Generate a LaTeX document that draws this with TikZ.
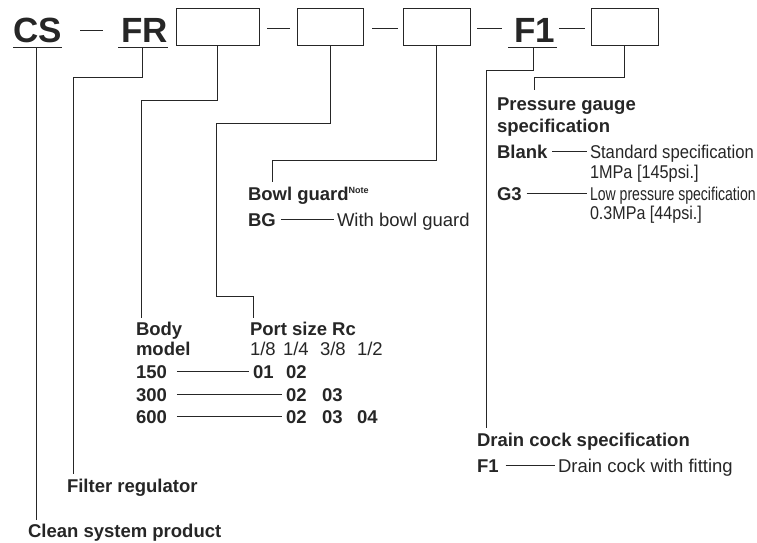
\documentclass[tikz,border=0pt]{standalone}
\usepackage{fontspec}
\setmainfont{Liberation Sans}
\usetikzlibrary{calc}
\definecolor{ink}{HTML}{262626}
\begin{document}
\begin{tikzpicture}[x=1pt,y=-1pt,
  every node/.style={inner sep=0pt, outer sep=0pt, text=ink},
  big/.style={font=\fontsize{35}{40}\selectfont\bfseries, anchor=base west},
  lbl/.style={font=\fontsize{18.5}{21}\selectfont\bfseries, anchor=base west, align=left},
  txt/.style={font=\fontsize{18.5}{21}\selectfont, anchor=base west},
  codebox/.style={draw=ink, line width=1pt, minimum height=37pt},
  conn/.style={draw=ink, line width=1pt},
  sepdash/.style={draw=ink, line width=1pt},
  lead/.style={draw=ink, line width=1pt, shorten <=5pt, shorten >=3pt}
]
\useasboundingbox (0,0) rectangle (757,543);
\fill[white] (0,0) rectangle (757,543);

% ---- code line ----
\node[big] (cs) at (13.5,43) {CS};
\node[big] (fr) at (121,43) {FR};
\node[codebox, minimum width=83pt] (b1) at (217.5,27.5) {};
\node[codebox, minimum width=66pt] (b2) at (330,27.5) {};
\node[codebox, minimum width=67pt] (b3) at (436.5,27.5) {};
\node[big] (f1) at (514,43) {F1};
\node[codebox, minimum width=67pt] (b4) at (624.5,27.5) {};

% underlines
\coordinate (csu) at ($(cs.base)+(-1.5,5)$);
\coordinate (fru) at ($(fr.base)+(-1.5,5)$);
\coordinate (f1u) at ($(f1.base)+(-1,5)$);
\draw[conn] ($(cs.base west)+(-0.5,5)$) -- ($(cs.base east)+(0,5)$);
\draw[conn] ($(fr.base west)+(-3,5)$) -- ($(fr.base east)+(0.5,5)$);
\draw[conn] ($(f1.base west)+(-6,5)$) -- ($(f1.base east)+(2,5)$);

% separator dashes
\draw[sepdash, shorten <=18pt, shorten >=18pt] (cs.east) -- (cs.east -| fr.west);
\draw[sepdash, shorten <=8pt, shorten >=7pt] ($(b1.east)+(0,1.5)$) -- ($(b2.west)+(0,1.5)$);
\draw[sepdash, shorten <=9pt, shorten >=5pt] ($(b2.east)+(0,1.5)$) -- ($(b3.west)+(0,1.5)$);
\draw[sepdash, shorten <=7pt, shorten >=12pt] ($(b3.east)+(0,1.5)$) -- ($(b3.east -| f1.west)+(0,1.5)$);
\draw[sepdash, shorten <=4pt, shorten >=6pt] ($(b4.west -| f1.east)+(0,1.5)$) -- ($(b4.west)+(0,1.5)$);

% ---- labels ----
\node[lbl, font=\fontsize{18.5}{22}\selectfont\bfseries] (press) at (497,132) {Pressure gauge\\specification};
\node[lbl] (blank) at (497,158) {Blank};
\node[txt] (std1) at (590,158) {\scalebox{0.9}[1]{Standard specification}};
\node[txt] (std2) at (590,178) {\scalebox{0.88}[1]{1MPa [145psi.]}};
\node[lbl] (g3) at (497,200) {G3};
\node[txt] (low1) at (590,200) {\scalebox{0.76}[1]{Low pressure specification}};
\node[txt] (low2) at (590,219) {\scalebox{0.87}[1]{0.3MPa [44psi.]}};

\node[lbl] (bowl) at (248,200) {Bowl guard\raisebox{7pt}{\fontsize{9}{9}\selectfont Note}};
\node[lbl] (bg) at (248,226) {BG};
\node[txt] (withbg) at (337,226) {With bowl guard};

\node[lbl, font=\fontsize{18.5}{20}\selectfont\bfseries] (body) at (136,355) {Body\\model};
\node[lbl] (port) at (250,335) {Port size Rc};
\node[txt] (s18) at (250,355) {1/8};
\node[txt] (s14) at (283,355) {1/4};
\node[txt] (s38) at (320,355) {3/8};
\node[txt] (s12) at (357,355) {1/2};

\node[lbl] (r150) at (136,378) {150};
\node[lbl] (r300) at (136,401) {300};
\node[lbl] (r600) at (136,423) {600};
\node[lbl] (v01a) at (253,378) {01};
\node[lbl] (v02a) at (286,378) {02};
\node[lbl] (v02b) at (286,401) {02};
\node[lbl] (v03b) at (322,401) {03};
\node[lbl] (v02c) at (286,423) {02};
\node[lbl] (v03c) at (322,423) {03};
\node[lbl] (v04c) at (357,423) {04};

\node[lbl] (drain) at (477,446) {Drain cock specification};
\node[lbl] (df1) at (477,472) {F1};
\node[txt] (dwith) at (558,472) {Drain cock with fitting};

\node[lbl] (filter) at (67,492) {Filter regulator};
\node[lbl] (clean) at (28,537) {Clean system product};

% ---- leader dashes ----
\draw[lead] (blank.east) -- (blank.east -| std1.west);
\draw[lead] (g3.east) -- (g3.east -| low1.west);
\draw[lead] (bg.east) -- (bg.east -| withbg.west);
\draw[lead, shorten <=7pt] (df1.east) -- (df1.east -| dwith.west);
\draw[lead, shorten <=10pt, shorten >=4pt] (r150.east) -- (r150.east -| v01a.west);
\draw[lead, shorten <=10pt, shorten >=4pt] (r300.east) -- (r300.east -| v02b.west);
\draw[lead, shorten <=10pt, shorten >=4pt] (r600.east) -- (r600.east -| v02c.west);

% ---- connectors ----
\coordinate (k1) at (141,100);
\coordinate (k2a) at (216,123);
\coordinate (k2b) at (216,296);
\coordinate (k2c) at (253,296);
\coordinate (k3) at (272,160);
\coordinate (k4) at (486,70);
\coordinate (k5) at (534,77);
\coordinate (k6) at (73,77);

\draw[conn, shorten >=4pt] (csu) -- (csu |- clean.north);
\draw[conn, shorten >=5pt] (fru) |- (k6) -- (k6 |- filter.north);
\draw[conn, shorten >=4pt] (b1.south) |- (k1) -- (k1 |- body.north);
\draw[conn, shorten >=4pt] (b2.south) |- (k2a) -- (k2b) -- (k2c) -- (k2c |- port.north);
\draw[conn, shorten >=5pt] (b3.south) |- (k3) -- (k3 |- bowl.north);
\draw[conn, shorten >=5pt] (f1u) |- (k4) -- (k4 |- drain.north);
\draw[conn, shorten >=7pt] (b4.south) |- (k5) -- (k5 |- press.north);
\end{tikzpicture}
\end{document}
